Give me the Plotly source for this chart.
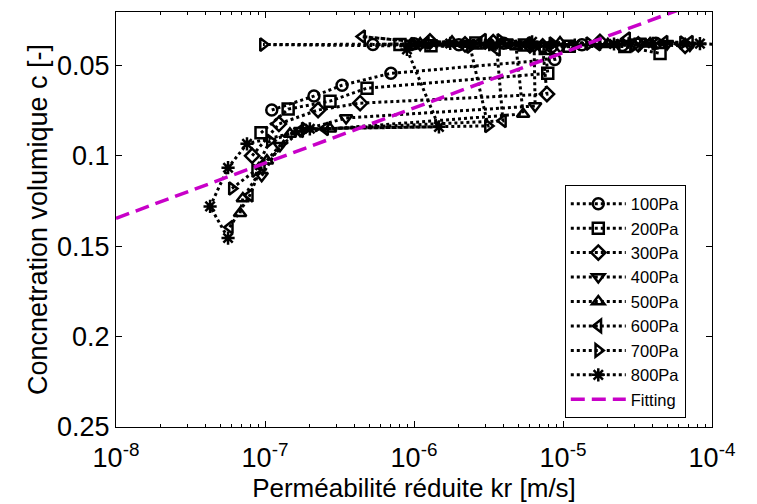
import plotly.graph_objects as go

# ---- data ----
labels = ["100Pa", "200Pa", "300Pa", "400Pa", "500Pa", "600Pa", "700Pa", "800Pa"]
symbols = ["circle-open", "square-open", "diamond-open", "triangle-down-open",
           "triangle-up-open", "triangle-left-open", "triangle-right-open", "asterisk-open"]

k_100 = [1.11e-7, 2.13e-7, 3.29e-7, 7.0e-7, 8.8e-6, 8.4e-6,
         5.3e-7, 1.0e-6, 2.0e-6, 4.0e-6, 1.34e-5, 2.5e-5, 4.2e-5]
c_100 = [0.0747, 0.0670, 0.0610, 0.0544, 0.0467, 0.0396,
         0.0385, 0.0380, 0.0386, 0.0378, 0.0386, 0.0390, 0.0378]

k_200 = [9.4e-8, 1.43e-7, 2.73e-7, 4.84e-7, 7.9e-6, 7.6e-6,
         8.05e-7, 1.3e-6, 2.6e-6, 5.5e-6, 1.1e-5, 2.6e-5, 4.48e-5]
c_200 = [0.0873, 0.0742, 0.0698, 0.0626, 0.0544, 0.0407,
         0.0385, 0.0392, 0.0376, 0.0388, 0.0395, 0.0396, 0.0434]

k_300 = [8.2e-8, 1.24e-7, 2.27e-7, 4.35e-7, 7.8e-6, 7.3e-6,
         1.28e-6, 2.2e-6, 3.4e-6, 6.0e-6, 1.77e-5, 3.2e-5, 6.6e-5]
c_300 = [0.1000, 0.0824, 0.0747, 0.0709, 0.0659, 0.0396,
         0.0368, 0.0384, 0.0372, 0.0390, 0.0370, 0.0384, 0.0392]

k_400 = [9.5e-8, 1.26e-7, 1.72e-7, 3.5e-7, 6.5e-6, 6.4e-6,
         2.38e-6, 1.1e-6, 4.2e-6, 9.6e-6, 3.29e-5, 5.0e-5, 7.1e-5]
c_400 = [0.1110, 0.0945, 0.0862, 0.0791, 0.0725, 0.0396,
         0.0379, 0.0386, 0.0372, 0.0400, 0.0368, 0.0381, 0.0390]

k_500 = [6.8e-8, 7.1e-8, 1.03e-7, 1.47e-7, 2.73e-7, 5.4e-6, 4.84e-6,
         1.1e-6, 1.8e-6, 3.3e-6, 9.55e-6, 2.0e-5, 3.84e-5]
c_500 = [0.1318, 0.1236, 0.1027, 0.0879, 0.0851, 0.0769, 0.0396,
         0.0380, 0.0370, 0.0385, 0.0374, 0.0383, 0.0380]

k_600 = [5.8e-8, 7.9e-8, 9.5e-8, 1.72e-7, 2.53e-7, 3.95e-6, 3.6e-6,
         4.48e-7, 1.2e-6, 2.9e-6, 5.8e-6, 1.7e-5, 2.69e-5, 4.8e-5, 7.1e-5]
c_600 = [0.1395, 0.1219, 0.1055, 0.0862, 0.0851, 0.0807, 0.0412,
         0.0341, 0.0375, 0.0360, 0.0378, 0.0383, 0.0352, 0.0372, 0.0372]

k_700 = [6.0e-8, 8.6e-8, 1.08e-7, 1.85e-7, 3.14e-6, 2.38e-6,
         9.7e-8, 1.0e-6, 3.8e-6, 8.5e-6, 1.5e-5, 3.0e-5, 6.4e-5]
c_700 = [0.1181, 0.1082, 0.0917, 0.0851, 0.0835, 0.0396,
         0.0385, 0.0383, 0.0362, 0.0380, 0.0380, 0.0390, 0.0374]

k_800 = [5.65e-8, 4.28e-8, 5.65e-8, 7.57e-8, 2.0e-7, 1.47e-6, 8.97e-7,
         1.75e-6, 3.2e-6, 6.2e-6, 1.2e-5, 2.2e-5, 4.0e-5, 8.3e-5, 1.13e-4]
c_800 = [0.1455, 0.1280, 0.1066, 0.0934, 0.0851, 0.0840, 0.0412,
         0.0379, 0.0386, 0.0370, 0.0388, 0.0382, 0.0378, 0.0380, 0.0385]

fit_k = [1e-8, 1e-4]
fit_c = [0.1346, 0.0125]

x_ticks = [1e-8, 1e-7, 1e-6, 1e-5, 1e-4]
x_ticktext = ["10<sup>-8</sup>", "10<sup>-7</sup>", "10<sup>-6</sup>",
              "10<sup>-5</sup>", "10<sup>-4</sup>"]
y_ticks = [0.05, 0.1, 0.15, 0.2, 0.25]
y_ticktext = ["0.05", "0.1", "0.15", "0.2", "0.25"]

series_k = [k_100, k_200, k_300, k_400, k_500, k_600, k_700, k_800]
series_c = [c_100, c_200, c_300, c_400, c_500, c_600, c_700, c_800]

FONT = "Liberation Sans, Arial, sans-serif"

fig = go.Figure()
for lab, sym, kk, cc in zip(labels, symbols, series_k, series_c):
    fig.add_trace(go.Scatter(
        x=kk, y=cc, name=lab, mode="lines+markers",
        line=dict(color="black", width=3, dash="dot"),
        marker=dict(symbol=sym, size=11, color="black",
                    line=dict(color="black", width=2.5)),
    ))

fig.add_trace(go.Scatter(
    x=fit_k, y=fit_c, name="Fitting", mode="lines",
    line=dict(color="#c800c8", width=3.5, dash="14px,7px"),
))

minor_vals = [m * 10.0 ** e for e in range(-8, -4) for m in range(2, 10)]

fig.update_layout(
    width=757, height=504,
    margin=dict(l=116, r=45, t=11, b=76),
    paper_bgcolor="white", plot_bgcolor="white",
    font=dict(family=FONT, color="black", size=26),
    legend=dict(
        x=0.753, y=0.582, xanchor="left", yanchor="top",
        bgcolor="white", bordercolor="black", borderwidth=1,
        font=dict(family=FONT, size=16.5, color="black"),
        itemwidth=55, tracegroupgap=0,
    ),
)

fig.update_xaxes(
    type="log", range=[-8, -4],
    tickmode="array", tickvals=x_ticks, ticktext=x_ticktext,
    ticks="inside", ticklen=6, tickcolor="black", tickwidth=1,
    minor=dict(tickmode="array", tickvals=minor_vals, ticks="inside",
               ticklen=3, tickcolor="black", showgrid=False),
    showline=True, linecolor="black", linewidth=1, mirror="allticks",
    showgrid=False, zeroline=False,
    tickfont=dict(size=27), ticklabelstandoff=7,
    title=dict(text="Perméabilité réduite kr [m/s]", font=dict(size=26), standoff=1),
)
fig.update_yaxes(
    range=[0.25, 0.0205],
    tickmode="array", tickvals=y_ticks, ticktext=y_ticktext,
    ticks="inside", ticklen=6, tickcolor="black", tickwidth=1,
    showline=True, linecolor="black", linewidth=1, mirror="allticks",
    showgrid=False, zeroline=False,
    tickfont=dict(size=27),
    title=dict(text="Concnetration volumique c [-]", font=dict(size=27), standoff=1),
)

fig.write_html("out.html")
